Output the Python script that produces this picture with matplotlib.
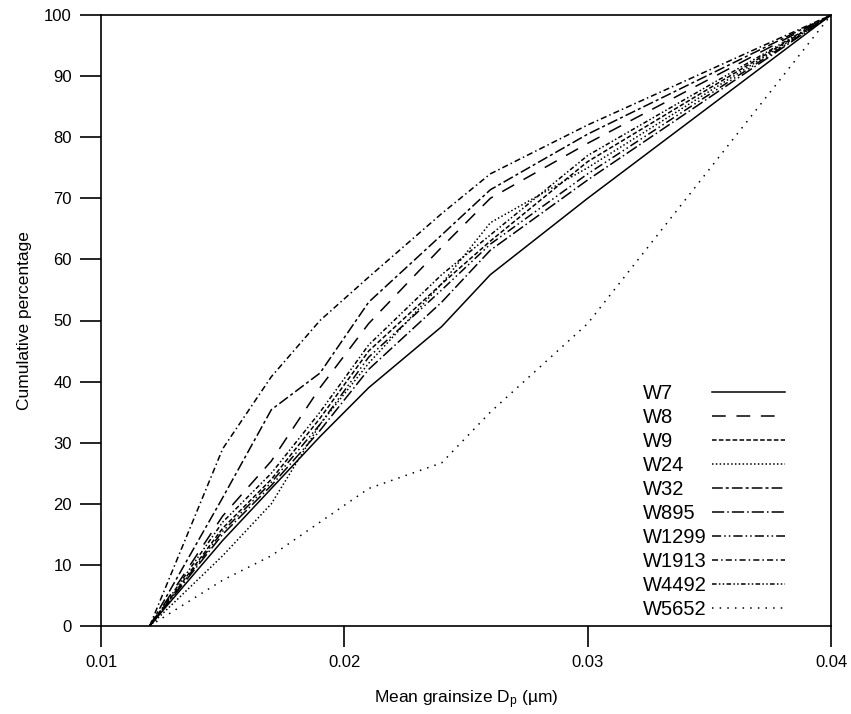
import numpy as np
import matplotlib
matplotlib.use("Agg")
from matplotlib import pyplot as plt
from matplotlib.lines import Line2D

plt.rcParams['font.family'] = ['Liberation Sans', 'DejaVu Sans']
plt.rcParams['mathtext.fontset'] = 'custom'
plt.rcParams['mathtext.rm'] = 'Liberation Sans'
plt.rcParams['mathtext.it'] = 'Liberation Sans:italic'

# grain size classes (um) and cumulative percentages per sample
grainsize = [0.012, 0.015, 0.017, 0.019, 0.021, 0.024, 0.026, 0.030, 0.040]
samples = ["W7", "W8", "W9", "W24", "W32", "W895", "W1299", "W1913", "W4492", "W5652"]
w7 = [0, 14, 22.5, 31, 39, 49, 57.5, 70, 100]
w8 = [0, 18, 27, 39, 49.5, 62, 70, 79, 100]
w9 = [0, 16, 24, 34, 45, 56, 63, 76, 100]
w24 = [0, 11.5, 20, 33, 43, 56, 66, 75, 100]
w32 = [0, 21, 35.4, 41.4, 53, 64, 71.4, 80.5, 100]
w895 = [0, 15, 23, 32, 42, 53, 61.5, 73, 100]
w1299 = [0, 15.5, 23.5, 33, 44, 55, 62.5, 74, 100]
w1913 = [0, 29, 40.8, 50, 57.1, 67.5, 74, 82, 100]
w4492 = [0, 17, 25, 35, 46, 57.5, 64, 77, 100]
w5652 = [0, 7.5, 11.5, 17, 22.5, 26.7, 35, 49.5, 100]
series = [w7, w8, w9, w24, w32, w895, w1299, w1913, w4492, w5652]

styles = ['-', (0, (9, 7)), (0, (3, 1.5)), (0, (1, 1.5)), (0, (7, 2, 2, 2)),
          (0, (8, 2, 1, 2)), (0, (6, 2, 1, 2, 1, 2)), (0, (4, 2, 1, 2)),
          (0, (3, 1.5, 1, 1.5, 1, 1.5)), (0, (1, 4))]

fig = plt.figure(figsize=(8.51, 7.14), dpi=100)
ax = fig.add_axes([101/851, 1 - 626/714, 730/851, 611/714])

lines = []
for vals, ls in zip(series, styles):
    ln, = ax.plot(grainsize, vals, color='black', lw=1.1, linestyle=ls)
    lines.append(ln)

ax.set_xlim(0.01, 0.04)
ax.set_ylim(0, 100)
ax.set_xticks([0.01, 0.02, 0.03, 0.04])
ax.set_xticklabels(["0.01", "0.02", "0.03", "0.04"])
ax.set_yticks(np.arange(0, 101, 10))
ax.tick_params(direction='out', length=15, width=1.2, labelsize=12, pad=6, color='black')
for sp in ax.spines.values():
    sp.set_linewidth(1.2)

ax.set_xlabel("Mean grainsize D$_\\mathrm{p}$ (\u00b5m)", fontsize=12.5, labelpad=13)
ax.set_ylabel("Cumulative percentage", fontsize=12.5, labelpad=9)

# legend: labels in one column, line samples in another
fs = 14.5
top = 1 - 384/714
blank = [Line2D([], [], lw=0) for _ in samples]
leg_text = ax.legend(blank, samples, loc='upper left', bbox_to_anchor=(643/851, top),
                     bbox_transform=fig.transFigure, frameon=False, fontsize=fs,
                     handlelength=0, handletextpad=0, borderpad=0, borderaxespad=0,
                     labelspacing=0.25)
ax.add_artist(leg_text)
ax.legend(lines, [''] * len(lines), loc='upper left', bbox_to_anchor=(712/851, top),
          bbox_transform=fig.transFigure, frameon=False, fontsize=fs,
          handlelength=3.63, handletextpad=0, borderpad=0, borderaxespad=0,
          labelspacing=0.25)

plt.savefig("out.png", dpi=100)
plt.close()
